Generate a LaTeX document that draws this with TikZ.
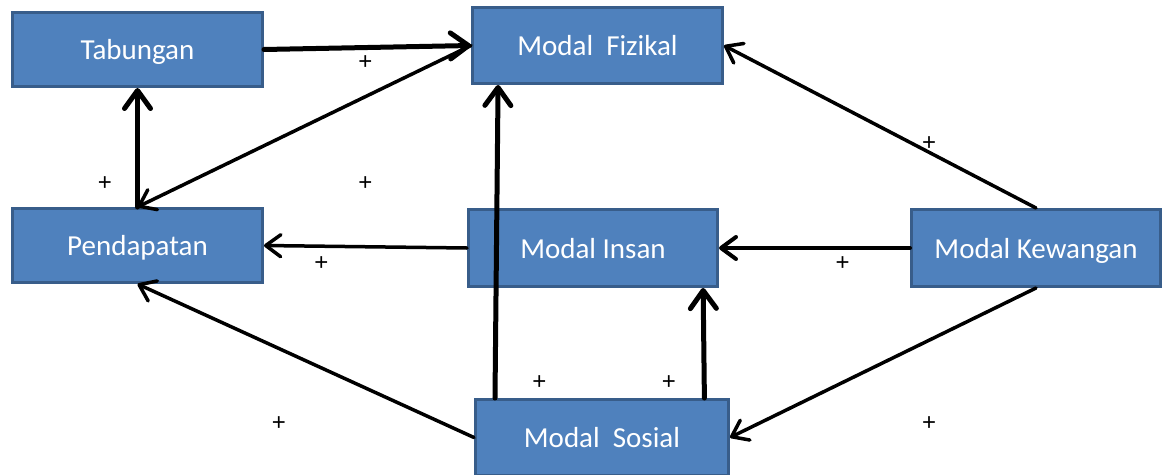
\documentclass[tikz,border=0pt]{standalone}
\usepackage{fontspec}
\setmainfont{Carlito}
\newfontfamily\plusfont{Liberation Sans}
\usetikzlibrary{arrows.meta,calc}
\definecolor{boxfill}{HTML}{4F81BD}
\definecolor{boxline}{HTML}{385D8A}
\tikzset{
  box/.style={draw=boxline, line width=2.8pt, fill=boxfill, text=white, rectangle,
    inner sep=0pt, font=\fontsize{29}{31}\selectfont, text height=20.5pt, text depth=0pt},
  plus/.style={inner sep=0pt, font=\plusfont\fontsize{24}{26}\selectfont},
  thinarr/.style={line width=3.5pt, line cap=round, line join=round,
    -{Straight Barb[length=15pt,width=22pt,line cap=round,line join=round]}},
  thickarr/.style={line width=5pt, line cap=round, line join=round,
    -{Straight Barb[length=18pt,width=26pt,line cap=round,line join=round]}}
}
\begin{document}
\begin{tikzpicture}[x=1pt,y=-1pt]
\useasboundingbox (0,0) rectangle (1170,474);
% boxes
\node[box, minimum width=250.2pt, minimum height=74.2pt] (tab) at (137.5,49.5) {Tabungan};
\node[box, minimum width=250.2pt, minimum height=76.2pt] (fiz) at (597.5,45.5) {Modal\ \ Fizikal};
\node[box, minimum width=250.2pt, minimum height=74.2pt] (pen) at (137.5,245.5) {Pendapatan};
\node[box, minimum width=249.2pt, minimum height=77.2pt] (ins) at (593,248) {Modal Insan};
\node[box, minimum width=249.2pt, minimum height=77.2pt] (kew) at (1036,248) {Modal Kewangan};
\node[box, minimum width=253.2pt, minimum height=76.2pt] (sos) at (602,437.5) {Modal\ \ Sosial};
% connectors
\draw[thickarr] (tab.east) -- (fiz.west);
\draw[thinarr] (fiz.west) -- (pen.north);
\draw[thickarr] (pen.north) -- (tab.south);
\draw[thinarr] (ins.west) -- (pen.east);
\draw[thinarr] (sos.west) -- (pen.south);
\draw[thickarr] ($(sos.north west)!0.082!(sos.north east)$) -- ($(fiz.south west)!0.107!(fiz.south east)$);
\draw[thickarr] ($(sos.north west)!0.9!(sos.north east)$) -- ($(ins.south west)!0.937!(ins.south east)$);
\draw[thinarr, line width=4pt] (kew.west) -- (ins.east);
\draw[thinarr] (kew.north) -- (fiz.east);
\draw[thinarr] (kew.south) -- (sos.east);
% signs
\node[plus] (p1) at (365.5,63) {+};
\node[plus] (p2) at (105,183.5) {+};
\node[plus] (p3) at (365.5,183.5) {+};
\node[plus] (p4) at (321.5,263.5) {+};
\node[plus] (p5) at (842.5,264) {+};
\node[plus] (p6) at (929,144) {+};
\node[plus] (p7) at (539.5,383) {+};
\node[plus] (p8) at (669,383) {+};
\node[plus] (p9) at (279,424) {+};
\node[plus] (p10) at (929,424) {+};
\end{tikzpicture}
\end{document}
